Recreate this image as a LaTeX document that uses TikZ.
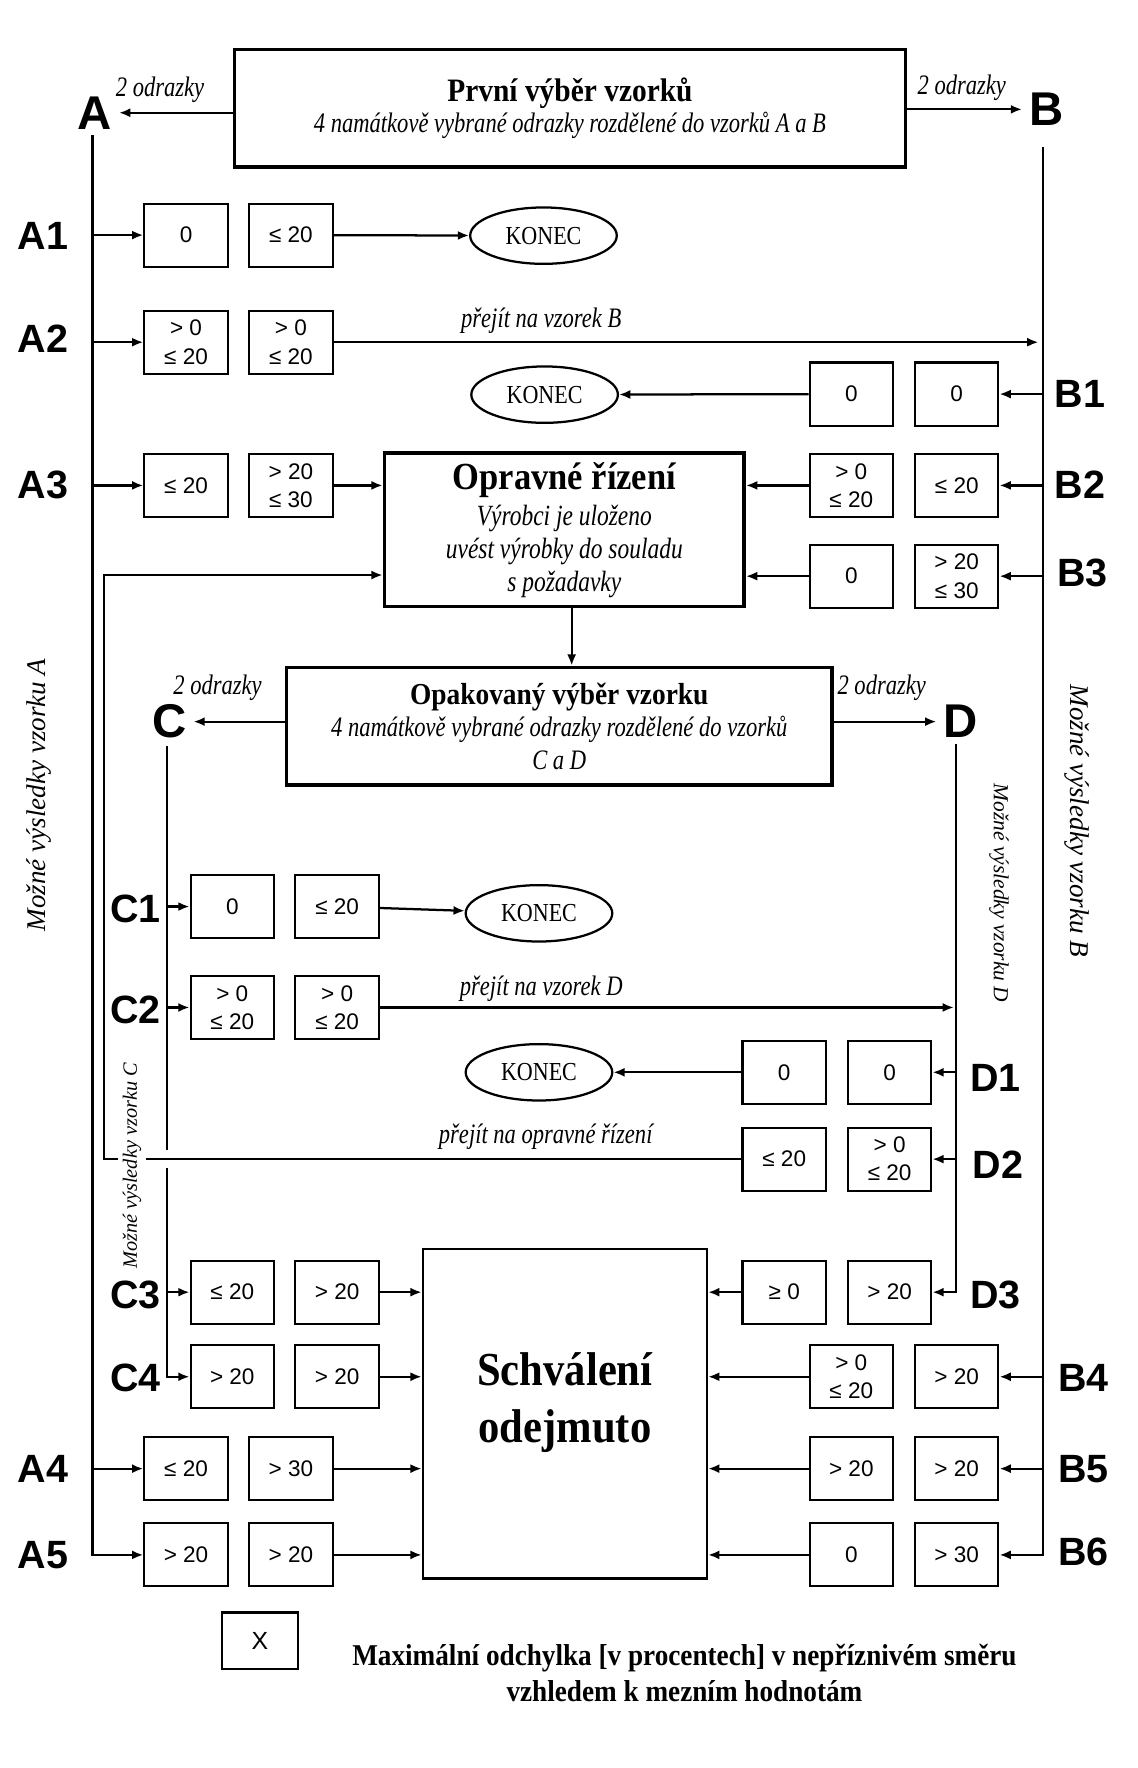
\documentclass[tikz,border=0pt]{standalone}
\usepackage{fontspec}
\setmainfont{Liberation Serif}
\newfontfamily\sansf{Liberation Sans}
\newfontfamily\condser{Liberation Serif}[FakeStretch=0.8]
\newfontfamily\boldser{Liberation Serif}[FakeStretch=0.9]
\newfontfamily\konf{Liberation Serif}[FakeStretch=0.85]
\usetikzlibrary{arrows.meta,shapes.geometric}
\tikzset{
  bx/.style={draw, line width=0.9pt, minimum width=37pt, minimum height=28pt, inner sep=0pt,
    font=\sansf\fontsize{10}{12.5}\selectfont, align=center},
  bigbox/.style={draw, line width=1.6pt, inner sep=0pt, align=center},
  arr/.style={line width=1pt, -{Latex[length=5pt,width=4pt]}},
  ln/.style={line width=1pt},
  rowlab/.style={font=\sansf\bfseries\fontsize{17.5}{20}\selectfont, inner sep=1pt},
  letlab/.style={font=\sansf\bfseries\fontsize{21}{24}\selectfont, inner sep=3pt},
  itl/.style={font=\condser\itshape\fontsize{12.5}{14}\selectfont, inner sep=0pt},
  konec/.style={draw, ellipse, line width=1pt, minimum width=65pt, minimum height=25pt, inner sep=0pt,
    font=\konf\fontsize{11.5}{13}\selectfont},
  side/.style={font=\itshape\fontsize{12}{14}\selectfont, inner sep=1pt}
}
\begin{document}
\begin{tikzpicture}[x=0.5pt,y=-0.5pt]
\fill[white] (0,0) rectangle (1009,1568);
\useasboundingbox (0,0) rectangle (1009,1568);

% main boxes
\node[bigbox, minimum width=297.5pt, minimum height=52pt, font=\fontsize{12.5}{14}\selectfont] (first) at (505.5,96)
  {{\boldser\bfseries\fontsize{14.5}{17}\selectfont První výběr vzorků}\\
   {\condser\itshape\fontsize{12.5}{14}\selectfont 4 namátkově vybrané odrazky rozdělené do vzorků A a B}};
\node[bigbox, minimum width=159.5pt, minimum height=68pt, font=\fontsize{13}{14.5}\selectfont] (oprav) at (500.5,470)
  {{\boldser\bfseries\fontsize{17}{19}\selectfont Opravné řízení}\\[1.5pt]
   \condser\itshape\fontsize{13}{14.5}\selectfont Výrobci je uloženo\\
   \condser\itshape\fontsize{13}{14.5}\selectfont uvést výrobky do souladu\\
   \condser\itshape\fontsize{13}{14.5}\selectfont s požadavky};
\node[bigbox, minimum width=242pt, minimum height=52pt, font=\fontsize{12.5}{14.5}\selectfont] (opak) at (496,644)
  {{\boldser\bfseries\fontsize{13.5}{16}\selectfont Opakovaný výběr vzorku}\\
   \condser\itshape\fontsize{12.5}{14.5}\selectfont 4 namátkově vybrané odrazky rozdělené do vzorků\\
   \condser\itshape\fontsize{12.5}{14.5}\selectfont C a D};
\node[draw, line width=1pt, minimum width=126pt, minimum height=146pt, inner sep=0pt] (schval) at (501,1254) {};
\node[align=center, font=\boldser\bfseries\fontsize{21}{25}\selectfont] (schtext) at (501,1244) {Schválení\\odejmuto};

% letters
\node[letlab] (nA) at (84,100) {A};
\node[letlab] (nB) at (928,97) {B};
\node[letlab] (nC) at (150,640) {C};
\node[letlab] (nD) at (852,640) {D};
\node[itl] (oA) at (142,80) {2 odrazky};
\node[itl] (oB) at (853,78) {2 odrazky};
\node[itl] (oC) at (193,610) {2 odrazky};
\node[itl] (oD) at (782,610) {2 odrazky};
\draw[arr] (first.west |- nA) -- (nA.east);
\draw[arr] (first.east |- nB) -- (nB.west);
\draw[arr] (opak.west |- nC) -- (nC.east);
\draw[arr] (opak.east |- nD) -- (nD.west);
\draw[arr] (oprav.south -| 507,0) -- (opak.north -| 507,0);

% side labels
\node[side, rotate=90] (sA) at (35,705) {Možné výsledky vzorku A};
\node[side, rotate=-90] (sB) at (955,728) {Možné výsledky vzorku B};
\node[side, rotate=-90, font=\itshape\fontsize{9.5}{11}\selectfont] (sD) at (886,792) {Možné výsledky vzorku D};

% row labels
\node[rowlab] (lA1) at (38,209) {A1};
\node[rowlab] (lA2) at (38,300) {A2};
\node[rowlab] (lA3) at (38,430) {A3};
\node[rowlab] (lA4) at (38,1303) {A4};
\node[rowlab] (lA5) at (38,1379) {A5};
\node[rowlab] (lB1) at (958,349) {B1};
\node[rowlab] (lB2) at (958,430) {B2};
\node[rowlab] (lB3) at (960,508) {B3};
\node[rowlab] (lB4) at (961,1222) {B4};
\node[rowlab] (lB5) at (961,1303) {B5};
\node[rowlab] (lB6) at (961,1376) {B6};
\node[rowlab] (lC1) at (120,806) {C1};
\node[rowlab] (lC2) at (120,896) {C2};
\node[rowlab] (lC3) at (120,1148) {C3};
\node[rowlab] (lC4) at (120,1222) {C4};
\node[rowlab] (lD1) at (883,956) {D1};
\node[rowlab] (lD2) at (885,1033) {D2};
\node[rowlab] (lD3) at (883,1148) {D3};

% boxes
\node[bx] (A1a) at (165,208.5) {0};
\node[bx] (A1b) at (258,208.5) {≤ 20};
\node[bx] (A2a) at (165,303.5) {> 0\\≤ 20};
\node[bx] (A2b) at (258,303.5) {> 0\\≤ 20};
\node[bx] (B1a) at (755,349.5) {0};
\node[bx] (B1b) at (848.5,349.5) {0};
\node[bx] (A3a) at (165,430.5) {≤ 20};
\node[bx] (A3b) at (258,430.5) {> 20\\≤ 30};
\node[bx] (B2a) at (755,430.5) {> 0\\≤ 20};
\node[bx] (B2b) at (848.5,430.5) {≤ 20};
\node[bx] (B3a) at (755,511) {0};
\node[bx] (B3b) at (848.5,511) {> 20\\≤ 30};
\node[bx] (C1a) at (206,804) {0};
\node[bx] (C1b) at (299,804) {≤ 20};
\node[bx] (C2a) at (206,893.5) {> 0\\≤ 20};
\node[bx] (C2b) at (299,893.5) {> 0\\≤ 20};
\node[bx] (D1a) at (695.5,951) {0};
\node[bx] (D1b) at (789,951) {0};
\node[bx] (D2a) at (695.5,1028) {≤ 20};
\node[bx] (D2b) at (789,1028) {> 0\\≤ 20};
\node[bx] (C3a) at (206,1146) {≤ 20};
\node[bx] (C3b) at (299,1146) {> 20};
\node[bx] (D3a) at (695.5,1146) {≥ 0};
\node[bx] (D3b) at (789,1146) {> 20};
\node[bx] (C4a) at (206,1221) {> 20};
\node[bx] (C4b) at (299,1221) {> 20};
\node[bx] (B4a) at (755,1221) {> 0\\≤ 20};
\node[bx] (B4b) at (848.5,1221) {> 20};
\node[bx] (A4a) at (165,1302.5) {≤ 20};
\node[bx] (A4b) at (258,1302.5) {> 30};
\node[bx] (B5a) at (755,1302.5) {> 20};
\node[bx] (B5b) at (848.5,1302.5) {> 20};
\node[bx] (A5a) at (165,1379) {> 20};
\node[bx] (A5b) at (258,1379) {> 20};
\node[bx] (B6a) at (755,1379) {0};
\node[bx] (B6b) at (848.5,1379) {> 30};

% KONEC
\node[konec] (k1) at (482,209) {KONEC};
\node[konec] (k2) at (483,350) {KONEC};
\node[konec] (k3) at (478,810) {KONEC};
\node[konec] (k4) at (478,951) {KONEC};

% vertical lines
\coordinate (Atop) at (82,120);
\coordinate (Btop) at (925,130);
\coordinate (Ctop) at (148,662);
\coordinate (Dtop) at (848,660);
\coordinate (loopx) at (92,510);
\coordinate (cgapA) at (148,1020);
\coordinate (cgapB) at (148,1036);

\draw[arr] (Atop) |- (A5a.west);
\draw[arr] (Btop) |- (B6b.east);
\draw[ln] (Ctop) -- (cgapA);
\draw[arr] (cgapB) |- (C4a.west);
\draw[arr] (Dtop) |- (D3b.east);

\foreach \r in {A1a,A2a,A3a,A4a}{\draw[arr] (Atop |- \r) -- (\r.west);}
\foreach \r in {B1b,B2b,B3b,B4b,B5b}{\draw[arr] (Btop |- \r) -- (\r.east);}
\foreach \r in {C1a,C2a,C3a}{\draw[arr] (Ctop |- \r) -- (\r.west);}
\foreach \r in {D1b,D2b}{\draw[arr] (Dtop |- \r) -- (\r.east);}

\draw[arr] (A1b) -- (k1);
\draw[arr] (B1a) -- (k2);
\draw[arr] (C1b) -- (k3);
\draw[arr] (D1a) -- (k4);
\draw[arr, shorten >=2pt] (A2b.east) -- (Btop |- A2b);
\draw[arr, shorten >=1pt] (C2b.east) -- (Dtop |- C2b);
\node[itl] (t1) at (480,284) {přejít na vzorek B};
\node[itl] (t2) at (480,877) {přejít na vzorek D};

\draw[arr] (A3b.east) -- (oprav.west |- A3b);
\draw[arr] (B2a.west) -- (oprav.east |- B2a);
\draw[arr] (B3a.west) -- (oprav.east |- B3a);
\draw[arr] (D2a.west) -| (loopx) -- (oprav.west |- loopx);
\node[itl] (t3) at (484,1008) {přejít na opravné řízení};
\node[side, rotate=90, fill=white, font=\itshape\fontsize{9}{10.5}\selectfont, inner sep=2pt] (sC) at (117,1034) {Možné výsledky vzorku C};

\foreach \r in {C3b,C4b,A4b,A5b}{\draw[arr] (\r.east) -- (schval.west |- \r);}
\foreach \r in {D3a,B4a,B5a,B6a}{\draw[arr] (\r.west) -- (schval.east |- \r);}

% legend
\node[draw, line width=1pt, minimum width=33.5pt, minimum height=25pt, inner sep=0pt, font=\sansf\fontsize{11}{13}\selectfont] (legbox) at (230.5,1455) {X};
\node[align=center, font=\boldser\bfseries\fontsize{13.4}{16}\selectfont] (legtext) at (607,1484)
  {Maximální odchylka [v procentech] v nepříznivém směru\\vzhledem k mezním hodnotám};
\end{tikzpicture}
\end{document}
